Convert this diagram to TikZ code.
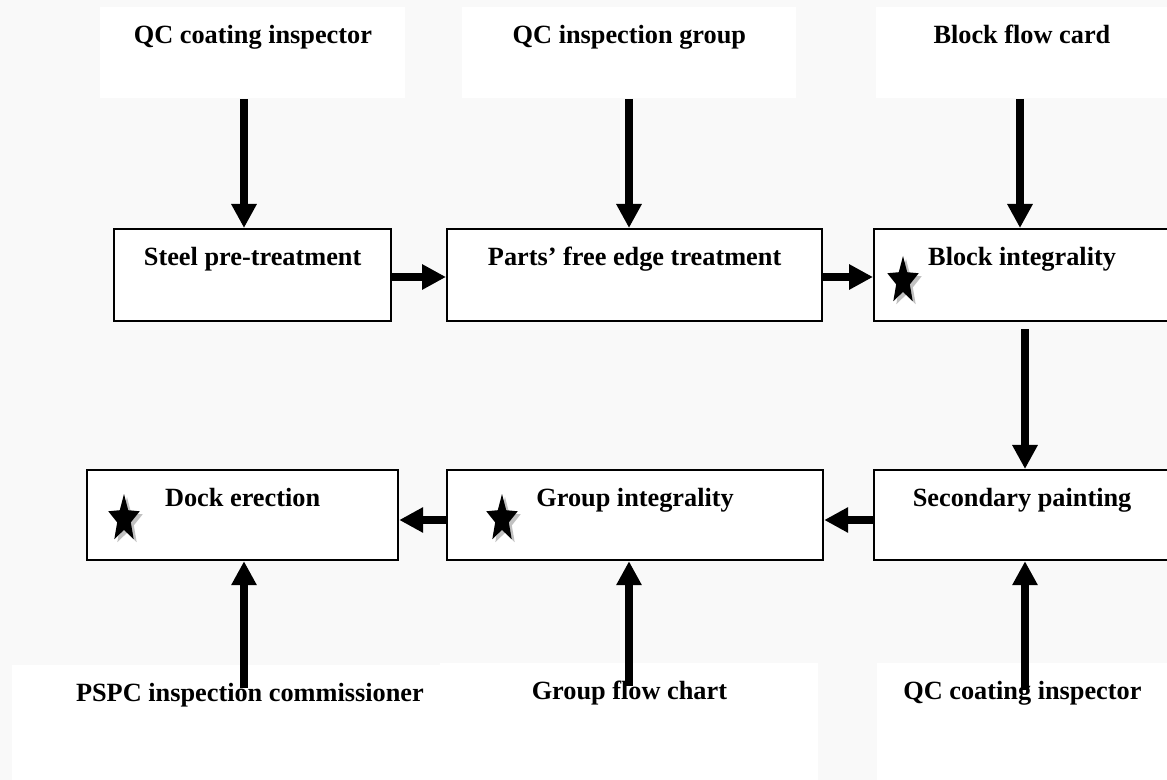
\documentclass[tikz,border=0pt]{standalone}
\usepackage{fontspec}
\setmainfont{Liberation Serif}
\usetikzlibrary{arrows.meta, shapes.geometric, shadows}
\definecolor{bggray}{RGB}{249,249,249}

\begin{document}
\begin{tikzpicture}[x=0.5pt, y=-0.5pt,
  every node/.style={font=\fontsize{13.15}{15}\selectfont\bfseries, anchor=north west, inner xsep=0pt, inner ysep=0pt, text height=18pt},
  src/.style={fill=white},
  proc/.style={draw, line width=1.1pt, fill=white},
  flow/.style={line width=4pt, -{Triangle[width=12pt, length=12pt]}},
  starmark/.style={star, star points=5, star point ratio=2.3, fill=black, anchor=center, text height=0pt, text depth=0pt, minimum size=25pt, xscale=0.66, transform shape, drop shadow={shadow xshift=1.5pt, shadow yshift=-1.5pt, fill=black!40, opacity=0.6}}]
\useasboundingbox (0,0) rectangle (1167,780);
\fill[bggray] (0,0) rectangle (1167,780);

\node[src, text depth=27.5pt, minimum width=152.5pt] (qctop) at (100,7) {QC coating inspector};
\node[src, text depth=27.5pt, minimum width=167pt] (qcgroup) at (462,7) {QC inspection group};
\node[src, text depth=27.5pt, minimum width=145.5pt] (blockcard) at (876,7) {Block flow card};

\node[src, text depth=40pt, minimum width=237.5pt] (pspc) at (12,665) {PSPC inspection commissioner};
\node[src, text depth=41pt, minimum width=189pt] (flowchart) at (440,663) {Group flow chart};
\node[src, text depth=41pt, minimum width=145pt] (qcbottom) at (877,663) {QC coating inspector};

\node[proc, text depth=28pt, minimum width=138.5pt] (steel) at (113,228) {Steel pre-treatment};
\node[proc, text depth=28pt, minimum width=187.5pt] (parts) at (446,228) {Parts’ free edge treatment};
\node[proc, text depth=28pt, minimum width=148pt] (block) at (873,228) {Block integrality};

\node[proc, text depth=27pt, minimum width=155.5pt] (dock) at (86,469) {Dock erection};
\node[proc, text depth=27pt, minimum width=188pt] (group) at (446,469) {Group integrality};
\node[proc, text depth=27pt, minimum width=148pt] (secondary) at (873,469) {Secondary painting};

\node[starmark] (s1) at (903,281) {};
\node[starmark] (s2) at (124,519) {};
\node[starmark] (s3) at (502,519) {};

\coordinate (tdown) at (1025,329);
\coordinate (tdock) at (244,688);
\coordinate (tgroup) at (629,686);
\coordinate (tqc) at (1025,690);

\draw[flow] (qctop.south -| 244,0) -- (steel.north -| 244,0);
\draw[flow] (qcgroup.south -| 629,0) -- (parts.north -| 629,0);
\draw[flow] (blockcard.south -| 1020,0) -- (block.north -| 1020,0);
\draw[flow] (steel.east |- 0,277) -- (parts.west |- 0,277);
\draw[flow] (parts.east |- 0,277) -- (block.west |- 0,277);
\draw[flow] (tdown) -- (secondary.north -| tdown);
\draw[flow] (secondary.west |- 0,520) -- (group.east |- 0,520);
\draw[flow] (group.west |- 0,520) -- (dock.east |- 0,520);
\draw[flow] (tdock) -- (dock.south -| tdock);
\draw[flow] (tgroup) -- (group.south -| tgroup);
\draw[flow] (tqc) -- (secondary.south -| tqc);
\end{tikzpicture}
\end{document}
